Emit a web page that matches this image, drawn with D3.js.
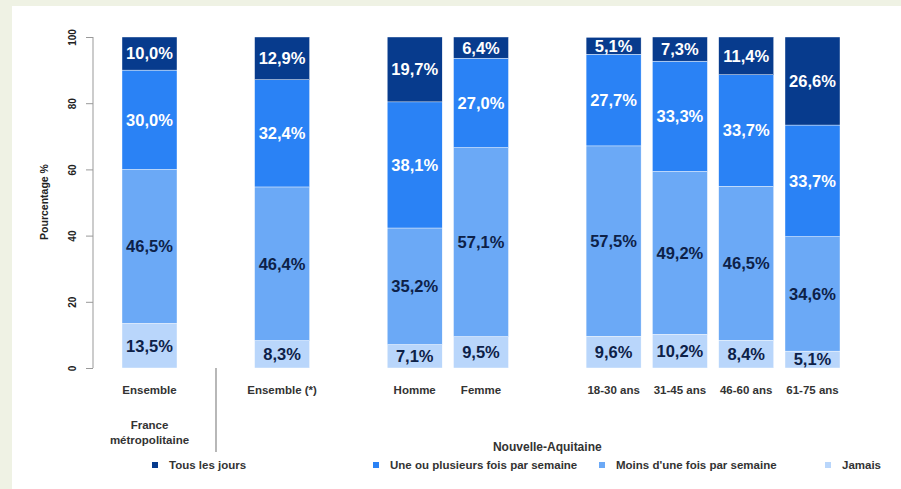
<!DOCTYPE html>
<html>
<head>
<meta charset="utf-8">
<script src="https://cdn.jsdelivr.net/npm/d3@7"></script>
<style>
  body { margin: 0; background: #eff2e4; }
  svg { display: block; font-family: "Liberation Sans", Arial, sans-serif; }
</style>
</head>
<body>
<svg id="chart" width="901" height="489"></svg>
<script>
// categories, in the order they appear; gaps sit between groups
var categories = ["Ensemble", "Ensemble (*)", "Homme", "Femme", "18-30 ans", "31-45 ans", "46-60 ans", "61-75 ans"];
var slots = [0, 2, 4, 5, 7, 8, 9, 10];

var seriesNames = ["Jamais", "Moins d'une fois par semaine", "Une ou plusieurs fois par semaine", "Tous les jours"];
var jamais     = [13.5,  8.3,  7.1,  9.5,  9.6, 10.2,  8.4,  5.1];
var moins      = [46.5, 46.4, 35.2, 57.1, 57.5, 49.2, 46.5, 34.6];
var plusieurs  = [30.0, 32.4, 38.1, 27.0, 27.7, 33.3, 33.7, 33.7];
var tousJours  = [10.0, 12.9, 19.7,  6.4,  5.1,  7.3, 11.4, 26.6];

var legendOrder = ["Tous les jours", "Une ou plusieurs fois par semaine", "Moins d'une fois par semaine", "Jamais"];
var yTicks = [0, 20, 40, 60, 80, 100];

function generateChart() {
    var svg = d3.select("#chart");

    svg.append("rect")
        .attr("x", 12).attr("y", 6)
        .attr("width", 901 - 12).attr("height", 489 - 6)
        .attr("fill", "#ffffff");

    var color = d3.scaleOrdinal()
        .domain(seriesNames)
        .range(["#b9d6fb", "#6ba9f6", "#2a82f5", "#073b8d"]);
    var textColor = d3.scaleOrdinal()
        .domain(seriesNames)
        .range(["#0d2148", "#0d2148", "#ffffff", "#ffffff"]);

    var y = d3.scaleLinear().domain([0, 100]).range([368, 37]);
    var slotX = d3.scaleLinear().domain([0, 10]).range([122, 785]);
    var barW = 55;

    var rows = categories.map((c, i) => ({
        cat: c, slot: slots[i],
        "Jamais": jamais[i],
        "Moins d'une fois par semaine": moins[i],
        "Une ou plusieurs fois par semaine": plusieurs[i],
        "Tous les jours": tousJours[i]
    }));

    var stack = d3.stack().keys(seriesNames);
    var layers = stack(rows);

    var layer = svg.append("g")
        .selectAll("g")
        .data(layers)
        .enter()
        .append("g")
        .attr("fill", d => color(d.key));

    layer.selectAll("rect")
        .data(d => d)
        .enter()
        .append("rect")
        .attr("x", d => slotX(d.data.slot))
        .attr("y", d => y(Math.min(d[1], 100)))
        .attr("width", barW)
        .attr("height", d => y(d[0]) - y(Math.min(d[1], 100)))
        .attr("stroke", "#ffffff")
        .attr("stroke-width", 0.4);

    layer.selectAll("text")
        .data(d => d.map(p => ({ key: d.key, p: p })))
        .enter()
        .append("text")
        .attr("x", d => slotX(d.p.data.slot) + barW / 2)
        .attr("y", d => (y(d.p[0]) + y(Math.min(d.p[1], 100))) / 2)
        .attr("dy", "0.36em")
        .attr("text-anchor", "middle")
        .attr("fill", d => textColor(d.key))
        .style("font-size", "16.5px")
        .style("font-weight", "bold")
        .text(d => d3.format(".1f")(d.p[1] - d.p[0]).replace(".", ",") + "%");

    // y axis
    var yAxis = svg.append("g")
        .attr("transform", "translate(93,0)")
        .call(d3.axisLeft(y).tickValues(yTicks).tickSize(7));
    yAxis.select(".domain").attr("stroke", "#999").attr("d", "M0," + y(0) + "V" + y(100));
    yAxis.selectAll(".tick line").attr("stroke", "#999");
    yAxis.selectAll(".tick text")
        .attr("transform", "rotate(-90)")
        .attr("x", 0).attr("y", -17).attr("dy", "0")
        .attr("text-anchor", "middle")
        .attr("fill", "#222")
        .style("font-size", "10px")
        .style("font-weight", "bold")
        .style("font-family", "'Liberation Sans', Arial, sans-serif");

    svg.append("text")
        .attr("transform", "translate(48,202) rotate(-90)")
        .attr("text-anchor", "middle")
        .attr("fill", "#222")
        .style("font-size", "10.5px")
        .style("font-weight", "bold")
        .text("Pourcentage %");

    // category labels
    svg.append("g")
        .selectAll("text")
        .data(rows)
        .enter()
        .append("text")
        .attr("x", d => slotX(d.slot) + barW / 2)
        .attr("y", 394)
        .attr("text-anchor", "middle")
        .attr("fill", "#333")
        .style("font-size", "11.5px")
        .style("font-weight", "bold")
        .text(d => d.cat);

    // group labels
    var fm = svg.append("text")
        .attr("text-anchor", "middle")
        .attr("fill", "#333")
        .style("font-size", "11.5px")
        .style("font-weight", "bold");
    fm.append("tspan").attr("x", slotX(0) + barW / 2).attr("y", 429).text("France");
    fm.append("tspan").attr("x", slotX(0) + barW / 2).attr("y", 444).text("métropolitaine");

    svg.append("text")
        .attr("x", (slotX(2) + slotX(10) + barW) / 2)
        .attr("y", 451)
        .attr("text-anchor", "middle")
        .attr("fill", "#333")
        .style("font-size", "12px")
        .style("font-weight", "bold")
        .text("Nouvelle-Aquitaine");

    svg.append("line")
        .attr("x1", 216).attr("x2", 216)
        .attr("y1", 368).attr("y2", 452)
        .attr("stroke", "#888").attr("stroke-width", 1.2);

    // legend
    var legendX = [152, 373, 599, 825];
    var legend = svg.append("g")
        .selectAll("g")
        .data(legendOrder)
        .enter()
        .append("g")
        .attr("transform", (d, i) => "translate(" + legendX[i] + ",465)");
    legend.append("rect")
        .attr("x", 0).attr("y", -3)
        .attr("width", 6).attr("height", 6)
        .attr("fill", d => color(d));
    legend.append("text")
        .attr("x", 17).attr("y", 0)
        .attr("dy", "0.34em")
        .attr("fill", "#333")
        .style("font-size", "11.5px")
        .style("font-weight", "bold")
        .text(d => d);
}

generateChart();
</script>
</body>
</html>
